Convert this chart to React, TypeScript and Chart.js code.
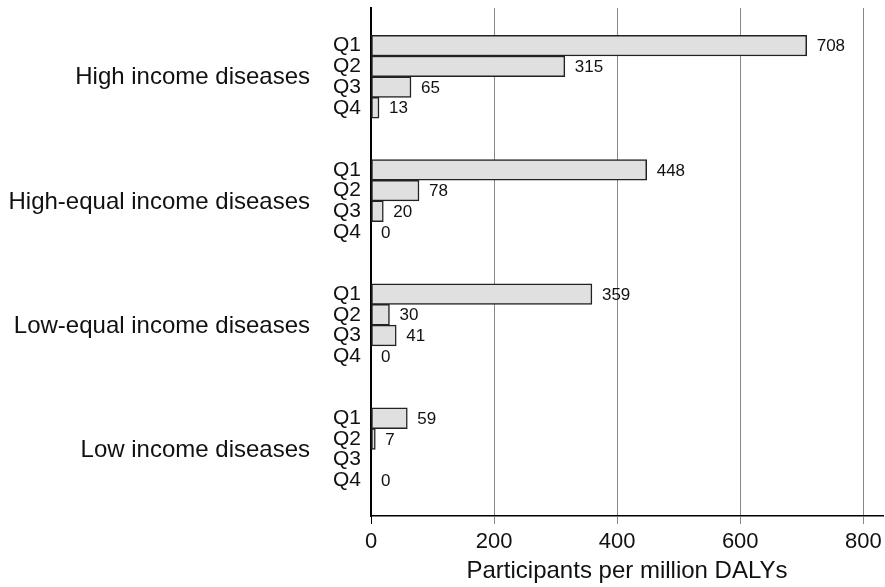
import { useEffect, useRef } from "react";
import { Chart, registerables } from "chart.js";

Chart.register(...registerables);

const groups = [
  "High income diseases",
  "High-equal income diseases",
  "Low-equal income diseases",
  "Low income diseases",
];
const quarters = ["Q1", "Q2", "Q3", "Q4"];
const highIncome: (number | null)[] = [708, 315, 65, 13];
const highEqualIncome: (number | null)[] = [448, 78, 20, 0];
const lowEqualIncome: (number | null)[] = [359, 30, 41, 0];
const lowIncome: (number | null)[] = [59, 7, null, 0];
const xTicks = [0, 200, 400, 600, 800];
const xMax = 832;
const xTitle = "Participants per million DALYs";

const seriesByGroup = [highIncome, highEqualIncome, lowEqualIncome, lowIncome];
const ROWS_PER_GROUP = quarters.length + 2;
const FONT = "'Liberation Sans', Arial, Helvetica, sans-serif";

export default function App() {
  const ref = useRef<HTMLCanvasElement | null>(null);

  useEffect(() => {
    if (!ref.current) return;
    const rows: number[] = [];
    const points: { x: number; y: number }[] = [];
    seriesByGroup.forEach((vals, g) => {
      vals.forEach((v, q) => {
        const row = g * ROWS_PER_GROUP + q;
        rows.push(row);
        if (v !== null) points.push({ x: v, y: row });
      });
    });
    const lastRow = rows[rows.length - 1];

    const valueLabels = {
      id: "valueLabels",
      afterDatasetsDraw(chart: any) {
        const ctx = chart.ctx;
        const meta = chart.getDatasetMeta(0);
        ctx.save();
        ctx.font = `17px ${FONT}`;
        ctx.fillStyle = "#111";
        ctx.textAlign = "left";
        ctx.textBaseline = "middle";
        meta.data.forEach((el: any, i: number) => {
          const p = points[i];
          ctx.fillText(String(p.x), el.x + 10, el.y + 1);
        });
        ctx.restore();
      },
    };

    const groupLabels = {
      id: "groupLabels",
      afterDraw(chart: any) {
        const ctx = chart.ctx;
        const y = chart.scales.y;
        ctx.save();
        ctx.font = `24px ${FONT}`;
        ctx.fillStyle = "#111";
        ctx.textAlign = "right";
        ctx.textBaseline = "middle";
        groups.forEach((name, g) => {
          const mid = g * ROWS_PER_GROUP + (quarters.length - 1) / 2;
          ctx.fillText(name, 310, y.getPixelForValue(mid) + 1);
        });
        ctx.restore();
      },
    };

    const chart = new Chart(ref.current, {
      type: "bar",
      data: {
        datasets: [
          {
            data: points,
            backgroundColor: "#e0e0e0",
            borderColor: "#222",
            borderWidth: 1.5,
            borderSkipped: false,
            barPercentage: 1,
            categoryPercentage: 1,
          },
        ],
      },
      options: {
        animation: false,
        responsive: true,
        maintainAspectRatio: false,
        indexAxis: "y",
        layout: { padding: { top: 8, right: 2, left: 0, bottom: 0 } },
        plugins: {
          legend: { display: false },
          tooltip: { enabled: false },
        },
        scales: {
          x: {
            type: "linear",
            min: 0,
            max: xMax,
            offset: false,
            afterBuildTicks: (s: any) => {
              s.ticks = xTicks.map((v) => ({ value: v }));
            },
            afterFit: (s: any) => {
              s.height = 71;
              s.paddingLeft = 0;
              s.paddingRight = 0;
            },
            grid: {
              color: (c: any) => (c.tick && c.tick.value === 0 ? "#000" : "#888"),
              lineWidth: 1,
              tickLength: 8,
            },
            border: { display: true, color: "#000", width: 1.5 },
            ticks: {
              color: "#111",
              font: { family: FONT, size: 22 },
              padding: 5,
              autoSkip: false,
              maxRotation: 0,
            },
            title: {
              display: true,
              text: xTitle,
              color: "#111",
              font: { family: FONT, size: 24 },
              padding: { top: 0, bottom: 1 },
            },
          },
          y: {
            type: "linear",
            reverse: true,
            min: -1.82,
            max: lastRow + 1.72,
            offset: false,
            afterBuildTicks: (s: any) => {
              s.ticks = rows.map((r) => ({ value: r }));
            },
            afterFit: (s: any) => {
              s.width = 371;
              s.paddingTop = 0;
              s.paddingBottom = 0;
            },
            grid: { display: false, drawTicks: false, offset: false },
            border: { display: true, color: "#000", width: 2 },
            ticks: {
              color: "#111",
              font: { family: FONT, size: 21 },
              padding: 10,
              autoSkip: false,
              callback: (v: any) => quarters[Number(v) % ROWS_PER_GROUP] ?? "",
            },
          },
        },
      },
      plugins: [valueLabels, groupLabels],
    });
    return () => chart.destroy();
  }, []);

  return (
    <div style={{ position: "absolute", left: 0, top: 0, width: 885, height: 587, background: "#fff" }}>
      <canvas ref={ref} />
    </div>
  );
}
